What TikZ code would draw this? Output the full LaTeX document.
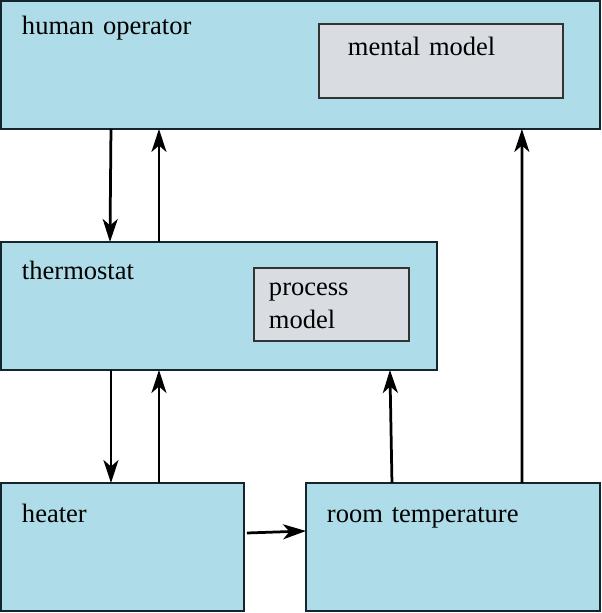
\documentclass[tikz,border=0pt]{standalone}
\usepackage{fontspec}
\setmainfont{Liberation Serif}
\usetikzlibrary{
  arrows.meta,
  calc,
  positioning
}
\definecolor{boxblue}{RGB}{174,220,232}
\definecolor{modelgray}{RGB}{217,220,225}
\definecolor{edgedark}{RGB}{20,38,43}

\begin{document}
\begin{tikzpicture}[x=0.02cm,y=-0.02cm,
  block/.style={draw=edgedark,fill=boxblue,line width=0.04cm,anchor=north west,
    outer sep=0pt,inner ysep=0pt,inner xsep=0.42cm,align=left,
    font=\rmfamily\fontsize{15.1}{18.8}\selectfont},
  modelbox/.style={block,draw=black!80,fill=modelgray,line width=0.05cm},
  flow/.style={-{Stealth[length=0.46cm,width=0.3cm,inset=0.13cm]},line width=0.055cm}]
  \useasboundingbox (0,0) rectangle (602,613);

  \node[block,text width=11.14cm,text height=0.68cm,text depth=1.88cm] at (1,1) (operator) {human operator};
  \node[modelbox,inner xsep=0.58cm,text width=3.72cm,text height=0.64cm,text depth=0.84cm] at (319,24) (mental) {mental model};
  \node[block,text width=7.88cm,text height=0.76cm,text depth=1.8cm] at (1,242) (thermo) {thermostat};
  \node[modelbox,inner xsep=0.3cm,text width=2.5cm,text height=0.54cm,text depth=0.92cm] at (254,268) (process) {process\\model};
  \node[block,text width=4.02cm,text height=0.8cm,text depth=1.76cm] at (1,483) (heater) {heater};
  \node[block,text width=5.04cm,text height=0.8cm,text depth=1.76cm] at (306,483) (room) {room temperature};

  \draw[flow] ([xshift=2.2cm]operator.south west) -- ([xshift=2.18cm]thermo.north west);
  \draw[flow] ([xshift=3.16cm]thermo.north west) -- ([xshift=3.16cm]operator.south west);
  \draw[flow] ([xshift=2.2cm]thermo.south west) -- ([xshift=2.2cm]heater.north west);
  \draw[flow] ([xshift=3.16cm]heater.north west) -- ([xshift=3.16cm]thermo.south west);
  \draw[flow] ([xshift=0.06cm,yshift=0.28cm]heater.east) -- ([yshift=0.32cm]room.west);
  \draw[flow] ([xshift=1.72cm]room.north west) -- ([xshift=7.78cm]thermo.south west);
  \draw[flow] ([xshift=4.32cm]room.north west) -- ([xshift=10.42cm]operator.south west);
\end{tikzpicture}
\end{document}
